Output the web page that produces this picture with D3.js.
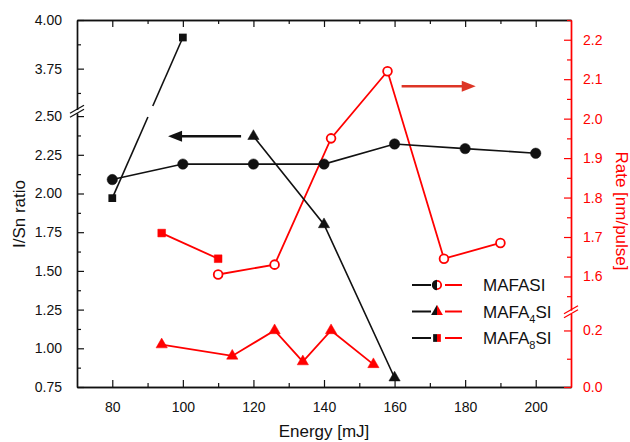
<!DOCTYPE html>
<html>
<head>
<meta charset="utf-8">
<script src="https://cdn.jsdelivr.net/npm/d3@7"></script>
<style>
body { margin: 0; background: #fff; }
text { font-family: "Liberation Sans", Arial, sans-serif; }
</style>
</head>
<body>
<script>
// I/Sn ratio (left axis)
const mafasiE = [80, 100, 120, 140, 160, 180, 200]
const mafasiRatio = [2.09, 2.19, 2.19, 2.19, 2.32, 2.29, 2.26]
const mafa4siE = [120, 140, 160]
const mafa4siRatio = [2.37, 1.80, 0.81]
const mafa8siE = [80, 100]
const mafa8siRatio = [1.97, 3.91]
// growth rate (right axis)
const mafasiRateE = [110, 126, 142, 158, 174, 190]
const mafasiRate = [1.605, 1.63, 1.95, 2.12, 1.645, 1.685]
const mafa4siRateE = [94, 114, 126, 134, 142, 154]
const mafa4siRate = [0.15, 0.11, 0.20, 0.09, 0.20, 0.08]
const mafa8siRateE = [94, 110]
const mafa8siRate = [1.71, 1.645]
// ticks
const xMajor = [80, 100, 120, 140, 160, 180, 200]
const xMinor = [90, 110, 130, 150, 170, 190]
const leftLowMajor = [0.75, 1.00, 1.25, 1.50, 1.75, 2.00, 2.25, 2.50]
const leftLowMinor = [0.875, 1.125, 1.375, 1.625, 1.875, 2.125, 2.375]
const leftHighMajor = [3.75, 4.00]
const leftHighMinor = [3.625, 3.875]
const rightHighMajor = [1.6, 1.7, 1.8, 1.9, 2.0, 2.1, 2.2]
const rightHighMinor = [1.55, 1.65, 1.75, 1.85, 1.95, 2.05, 2.15, 2.25]
const rightLowMajor = [0.0, 0.2]
const rightLowMinor = [0.1]
const legendNames = [["MAFA", "", "SI"], ["MAFA", "4", "SI"], ["MAFA", "8", "SI"]]

const W = 630, H = 442
const pLeft = 77, pRight = 571, pTop = 20, pBottom = 387
const RED = "#ff0000", BLACK = "#111"

const x = d3.scaleLinear().domain([70, 210]).range([pLeft, pRight])
const yLow = d3.scaleLinear().domain([0.75, 2.52]).range([pBottom, 113])
const yHigh = d3.scaleLinear().domain([3.54, 4.0]).range([109.5, pTop])
const rLow = d3.scaleLinear().domain([0, 0.26]).range([pBottom, 313.5])
const rHigh = d3.scaleLinear().domain([1.515, 2.25]).range([310, pTop])

const svg = d3.select("body").append("svg")
    .attr("width", W)
    .attr("height", H)

// ---- axes ----
function styleAxis(g, color, fs) {
    g.selectAll("path.domain").attr("stroke", color).attr("stroke-width", 1.4)
    g.selectAll(".tick line").attr("stroke", color).attr("stroke-width", 1.2)
    g.selectAll("text").attr("fill", color).style("font-size", fs + "px")
        .style("font-family", "'Liberation Sans', Arial, sans-serif")
}

// bottom + top
let g = svg.append("g").attr("transform", `translate(0,${pBottom})`)
    .call(d3.axisBottom(x).tickValues(xMajor).tickSize(-7).tickSizeOuter(0).tickPadding(15).tickFormat(d3.format("d")))
styleAxis(g, BLACK, 14)
g = svg.append("g").attr("transform", `translate(0,${pBottom})`)
    .call(d3.axisBottom(x).tickValues(xMinor).tickSize(-4).tickSizeOuter(0).tickFormat(""))
styleAxis(g, BLACK, 14)
g = svg.append("g").attr("transform", `translate(0,${pTop})`)
    .call(d3.axisTop(x).tickValues(xMajor).tickSize(-7).tickSizeOuter(0).tickFormat(""))
styleAxis(g, BLACK, 14)
g = svg.append("g").attr("transform", `translate(0,${pTop})`)
    .call(d3.axisTop(x).tickValues(xMinor).tickSize(-4).tickSizeOuter(0).tickFormat(""))
styleAxis(g, BLACK, 14)

// left (broken)
;[[yLow, leftLowMajor, leftLowMinor], [yHigh, leftHighMajor, leftHighMinor]].forEach(([s, maj, min]) => {
    let a = svg.append("g").attr("transform", `translate(${pLeft},0)`)
        .call(d3.axisLeft(s).tickValues(maj).tickSize(-7).tickSizeOuter(0).tickPadding(15).tickFormat(d3.format(".2f")))
    styleAxis(a, BLACK, 14)
    a = svg.append("g").attr("transform", `translate(${pLeft},0)`)
        .call(d3.axisLeft(s).tickValues(min).tickSize(-4).tickSizeOuter(0).tickFormat(""))
    styleAxis(a, BLACK, 14)
})

// right (broken)
;[[rLow, rightLowMajor, rightLowMinor], [rHigh, rightHighMajor, rightHighMinor]].forEach(([s, maj, min]) => {
    let a = svg.append("g").attr("transform", `translate(${pRight},0)`)
        .call(d3.axisRight(s).tickValues(maj).tickSize(-7).tickSizeOuter(0).tickPadding(12).tickFormat(d3.format(".1f")))
    styleAxis(a, RED, 14)
    a = svg.append("g").attr("transform", `translate(${pRight},0)`)
        .call(d3.axisRight(s).tickValues(min).tickSize(-4).tickSizeOuter(0).tickFormat(""))
    styleAxis(a, RED, 14)
})

// break marks
function breakMark(cx, cy, color) {
    [-2, 2].forEach(o => {
        svg.append("line")
            .attr("x1", cx - 7).attr("y1", cy + o + 4)
            .attr("x2", cx + 7).attr("y2", cy + o - 4)
            .attr("stroke", color).attr("stroke-width", 1.3)
    })
}
breakMark(pLeft, (yHigh.range()[0] + yLow.range()[1]) / 2, BLACK)
breakMark(pRight, (rHigh.range()[0] + rLow.range()[1]) / 2, RED)

// axis titles
svg.append("text").attr("transform", "translate(25,214) rotate(-90)")
    .attr("text-anchor", "middle").style("font-size", "17px").attr("fill", BLACK)
    .text("I/Sn ratio")
svg.append("text").attr("transform", "translate(616,211) rotate(90)")
    .attr("text-anchor", "middle").style("font-size", "17px").attr("fill", RED)
    .text("Rate [nm/pulse]")
svg.append("text").attr("x", (pLeft + pRight) / 2).attr("y", 437)
    .attr("text-anchor", "middle").style("font-size", "17px").attr("fill", BLACK)
    .text("Energy [mJ]")

// ---- series ----
function series(es, vs, ys, color, sym, size, open, width) {
    const pts = es.map((e, i) => [x(e), ys(vs[i])])
    svg.append("path")
        .attr("d", d3.line()(pts))
        .attr("fill", "none").attr("stroke", color).attr("stroke-width", width)
    svg.append("g").selectAll("path").data(pts).enter().append("path")
        .attr("transform", d => `translate(${d[0]},${d[1]})`)
        .attr("d", d3.symbol().type(sym).size(size))
        .attr("fill", open ? "#fff" : color)
        .attr("stroke", color)
        .attr("stroke-width", open ? 1.8 : 0.5)
}

series(mafa4siRateE, mafa4siRate, rLow, RED, d3.symbolTriangle, 55, false, 1.8)
series(mafa8siRateE, mafa8siRate, rHigh, RED, d3.symbolSquare, 60, false, 1.8)
series(mafasiRateE, mafasiRate, rHigh, RED, d3.symbolCircle, 60, true, 1.8)
series(mafasiE, mafasiRatio, yLow, BLACK, d3.symbolCircle, 85, false, 1.6)
series(mafa4siE, mafa4siRatio, yLow, BLACK, d3.symbolTriangle, 55, false, 1.6)

// MAFA8SI ratio: line crosses the axis break, so leave a gap there
const p0 = [x(mafa8siE[0]), yLow(mafa8siRatio[0])]
const p1 = [x(mafa8siE[1]), yHigh(mafa8siRatio[1])]
const gapLo = 117, gapHi = 106
const at = yy => [p0[0] + (p1[0] - p0[0]) * (yy - p0[1]) / (p1[1] - p0[1]), yy]
svg.append("path").attr("d", d3.line()([p0, at(gapLo)]))
    .attr("fill", "none").attr("stroke", BLACK).attr("stroke-width", 1.6)
svg.append("path").attr("d", d3.line()([at(gapHi), p1]))
    .attr("fill", "none").attr("stroke", BLACK).attr("stroke-width", 1.6)
svg.append("g").selectAll("path").data([p0, p1]).enter().append("path")
    .attr("transform", d => `translate(${d[0]},${d[1]})`)
    .attr("d", d3.symbol().type(d3.symbolSquare).size(60))
    .attr("fill", BLACK)

// ---- arrows ----
function arrow(x1, x2, yy, color) {
    const dir = Math.sign(x2 - x1)
    svg.append("line").attr("x1", x1).attr("y1", yy).attr("x2", x2 - dir * 10).attr("y2", yy)
        .attr("stroke", color).attr("stroke-width", 2.4)
    svg.append("path")
        .attr("d", `M${x2},${yy} L${x2 - dir * 14},${yy - 5.5} L${x2 - dir * 14},${yy + 5.5} Z`)
        .attr("fill", color)
}
arrow(x(116.5), x(95.8), yLow(2.37), BLACK)
arrow(x(162), x(183), rHigh(2.082), "#dd3526")

// ---- legend ----
const legSyms = [d3.symbolCircle, d3.symbolTriangle, d3.symbolSquare]
const legSize = [85, 60, 60]
const legY = [285, 311.5, 338]
const defs = svg.append("defs")
defs.append("clipPath").attr("id", "lhalf").append("rect")
    .attr("x", -10).attr("y", -10).attr("width", 10).attr("height", 20)
defs.append("clipPath").attr("id", "rhalf").append("rect")
    .attr("x", 0).attr("y", -10).attr("width", 10).attr("height", 20)
legY.forEach((ly, i) => {
    const sx = 437
    svg.append("line").attr("x1", 412).attr("x2", 431).attr("y1", ly).attr("y2", ly)
        .attr("stroke", BLACK).attr("stroke-width", 2)
    svg.append("line").attr("x1", 445).attr("x2", 462).attr("y1", ly).attr("y2", ly)
        .attr("stroke", RED).attr("stroke-width", 2)
    const sym = d3.symbol().type(legSyms[i]).size(legSize[i])
    svg.append("path").attr("transform", `translate(${sx},${ly})`).attr("d", sym)
        .attr("fill", BLACK).attr("clip-path", "url(#lhalf)")
    const open = i === 0
    svg.append("path").attr("transform", `translate(${sx},${ly})`)
        .attr("d", d3.symbol().type(legSyms[i]).size(open ? 55 : legSize[i]))
        .attr("fill", open ? "#fff" : RED).attr("stroke", open ? RED : "none").attr("stroke-width", 1.8)
        .attr("clip-path", "url(#rhalf)")
    const t = svg.append("text").attr("x", 483).attr("y", ly + 6)
        .style("font-size", "17px").attr("fill", BLACK)
    t.append("tspan").text(legendNames[i][0])
    if (legendNames[i][1]) {
        t.append("tspan").attr("dy", 5).style("font-size", "11px").text(legendNames[i][1])
        t.append("tspan").attr("dy", -5).text(legendNames[i][2])
    } else {
        t.append("tspan").text(legendNames[i][2])
    }
})
</script>
</body>
</html>
